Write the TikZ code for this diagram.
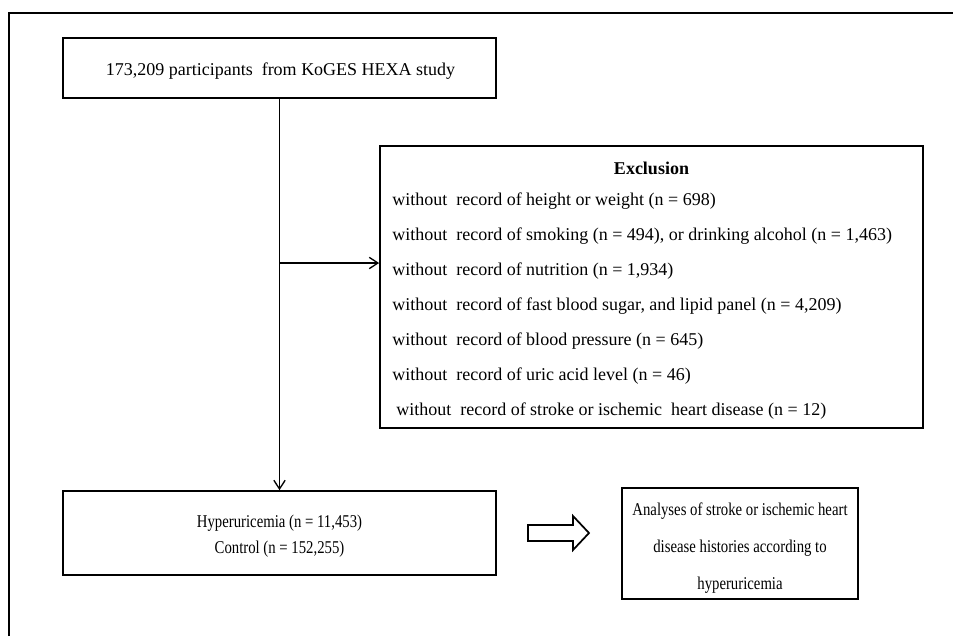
\documentclass[tikz,border=0pt]{standalone}
\usepackage{fontspec}
\setmainfont{Liberation Serif}
\newfontfamily\narrowserif{Liberation Serif}[FakeStretch=0.82]
\usetikzlibrary{arrows.meta}
\begin{document}
\begin{tikzpicture}[x=0.75pt,y=-0.75pt,
  every node/.style={font=\fontsize{13.5}{16}\selectfont},
  box/.style={draw, line width=1.3pt, inner sep=0pt},
  txt/.style={inner sep=0pt, align=center},
  exline/.style={anchor=west, inner sep=0pt, text height=0.75em, text depth=0.25em},
  conn/.style={line width=1pt, -{Straight Barb[length=6.5pt,width=8.5pt]}}]
\useasboundingbox (0,0) rectangle (953,636);
\draw[line width=1pt] (9,636) -- (9,13) -- (953,13);
% boxes
\node[box, minimum width=324.75pt, minimum height=45pt] (top) at (279.5,68) {};
\node[txt] (toptxt) at (280.5,71) {173,209 participants\ \ from KoGES HEXA study};
\node[box, minimum width=407.25pt, minimum height=211.5pt] (excl) at (651.5,287) {};
\node[box, minimum width=324.75pt, minimum height=63pt] (lower) at (279.5,533) {};
\node[txt, font=\narrowserif\fontsize{13.5}{20}\selectfont] (lowertxt) at (279.5,536)
  {Hyperuricemia (n = 11,453)\\Control (n = 152,255)};
\node[box, minimum width=177pt, minimum height=83.25pt] (res) at (740,543.5) {};
\node[txt, font=\narrowserif\fontsize{13.5}{27.75}\selectfont] (restxt) at (740,548)
  {Analyses of stroke or ischemic heart\\disease histories according to\\hyperuricemia};
% exclusion text
\node[font=\fontsize{13.5}{16}\selectfont\bfseries] (exh) at (651.5,168) {Exclusion};
\node[exline] (l1) at (392,202) {without\ \ record of height or weight (n = 698)};
\node[exline] (l2) at (392,237) {without\ \ record of smoking (n = 494), or drinking alcohol (n = 1,463)};
\node[exline] (l3) at (392,272) {without\ \ record of nutrition (n = 1,934)};
\node[exline] (l4) at (392,307) {without\ \ record of fast blood sugar, and lipid panel (n = 4,209)};
\node[exline] (l5) at (392,342) {without\ \ record of blood pressure (n = 645)};
\node[exline] (l6) at (392,377) {without\ \ record of uric acid level (n = 46)};
\node[exline] (l7) at (396,412) {without\ \ record of stroke or ischemic\ \ heart disease (n = 12)};
% connectors
\coordinate (br) at (top.south |- 0,263);
\draw[conn] (top.south) -- (lower.north);
\draw[conn] (br) -- (br -| excl.west);
% outline arrow
\draw[line width=1.3pt, line join=miter]
  (528,525) -- (573,525) -- (573,516) -- (589,533) -- (573,550) -- (573,541) -- (528,541) -- cycle;
\end{tikzpicture}
\end{document}
